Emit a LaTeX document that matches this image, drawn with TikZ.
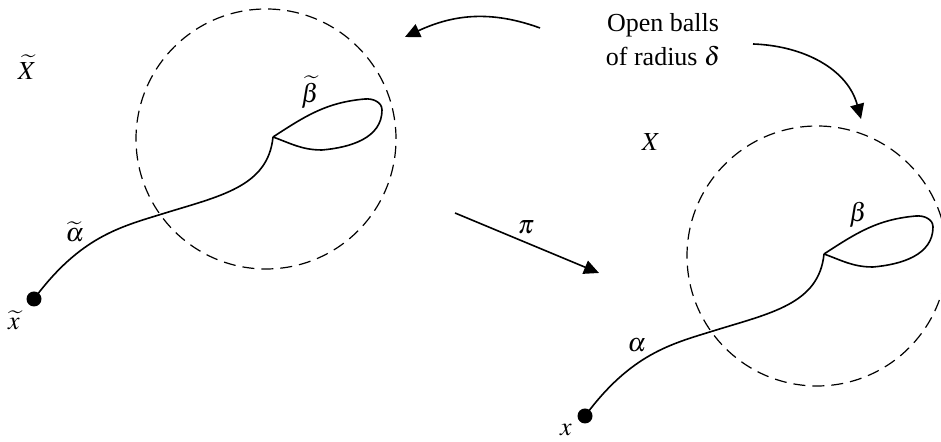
\documentclass[tikz,border=0pt]{standalone}
\usepackage{mathptmx}
\usepackage[no-math]{fontspec}
\setmainfont{Liberation Serif}
\usetikzlibrary{arrows.meta}

\begin{document}
\begin{tikzpicture}[
    x=0.5pt, y=0.5pt,
    every node/.style={font=\fontsize{13}{17}\selectfont},
    ball/.style   ={circle, draw, dash pattern=on 6pt off 3.5pt, line width=0.6pt, minimum size=130pt, inner sep=0pt},
    dot/.style    ={circle, fill, minimum size=7.5pt, inner sep=0pt},
    pathline/.style={line width=0.8pt},
    arrow/.style  ={-{Triangle[length=7.5pt, width=7pt]}, line width=0.8pt}
]
\useasboundingbox (0,0) rectangle (941,442);
% covering space
\begin{scope}
\node[ball] (ballA) at (266,303) {};
\node[dot] (xA) at (34,143) {};
\coordinate (jA) at (273,305);
\draw[pathline] (xA.center) .. controls (80,205) and (120,215) .. (162,228) .. controls (220,246) and (268,255) .. (jA);
\draw[pathline] (jA) to[out=33, in=185] (365,343) to[out=5, in=90] (382,332) to[out=-90, in=5] (322,292) to[out=180, in=-20] (jA);
\node (spaceA) at (27,375) {$\widetilde{X}$};
\node (betaA) at (310,350) {$\widetilde{\beta}$};
\node (alphaA) at (75,210) {$\widetilde{\alpha}$};
\node (ptA) at (14,122) {$\widetilde{x}$};
\end{scope}
% base space
\begin{scope}[shift={(551,-117)}]
\node[ball] (ballB) at (266,303) {};
\node[dot] (xB) at (34,143) {};
\coordinate (jB) at (273,305);
\draw[pathline] (xB.center) .. controls (80,205) and (120,215) .. (162,228) .. controls (220,246) and (268,255) .. (jB);
\draw[pathline] (jB) to[out=33, in=185] (365,343) to[out=5, in=90] (382,332) to[out=-90, in=5] (322,292) to[out=180, in=-20] (jB);
\node (spaceB) at (100,417) {$X$};
\node (betaB) at (307,344) {$\beta$};
\node (alphaB) at (86,214) {$\alpha$};
\node (ptB) at (15,129) {$x$};
\end{scope}
% label and arrows
\node[align=center] (balls) at (663,402) {Open balls\\of radius $\delta$};
\coordinate (tailA) at (540,414);
\coordinate (tipA) at (405,405);
\coordinate (tailB) at (753,398);
\coordinate (tipB) at (861,323);
\draw[arrow] (tailA) to[out=160, in=25] (tipA);
\draw[arrow] (tailB) to[out=-2, in=105] (tipB);
\coordinate (mapfrom) at (455,229);
\coordinate (mapto) at (599,169);
\draw[arrow] (mapfrom) -- (mapto);
\node (proj) at (526,215) {$\pi$};
\end{tikzpicture}
\end{document}
